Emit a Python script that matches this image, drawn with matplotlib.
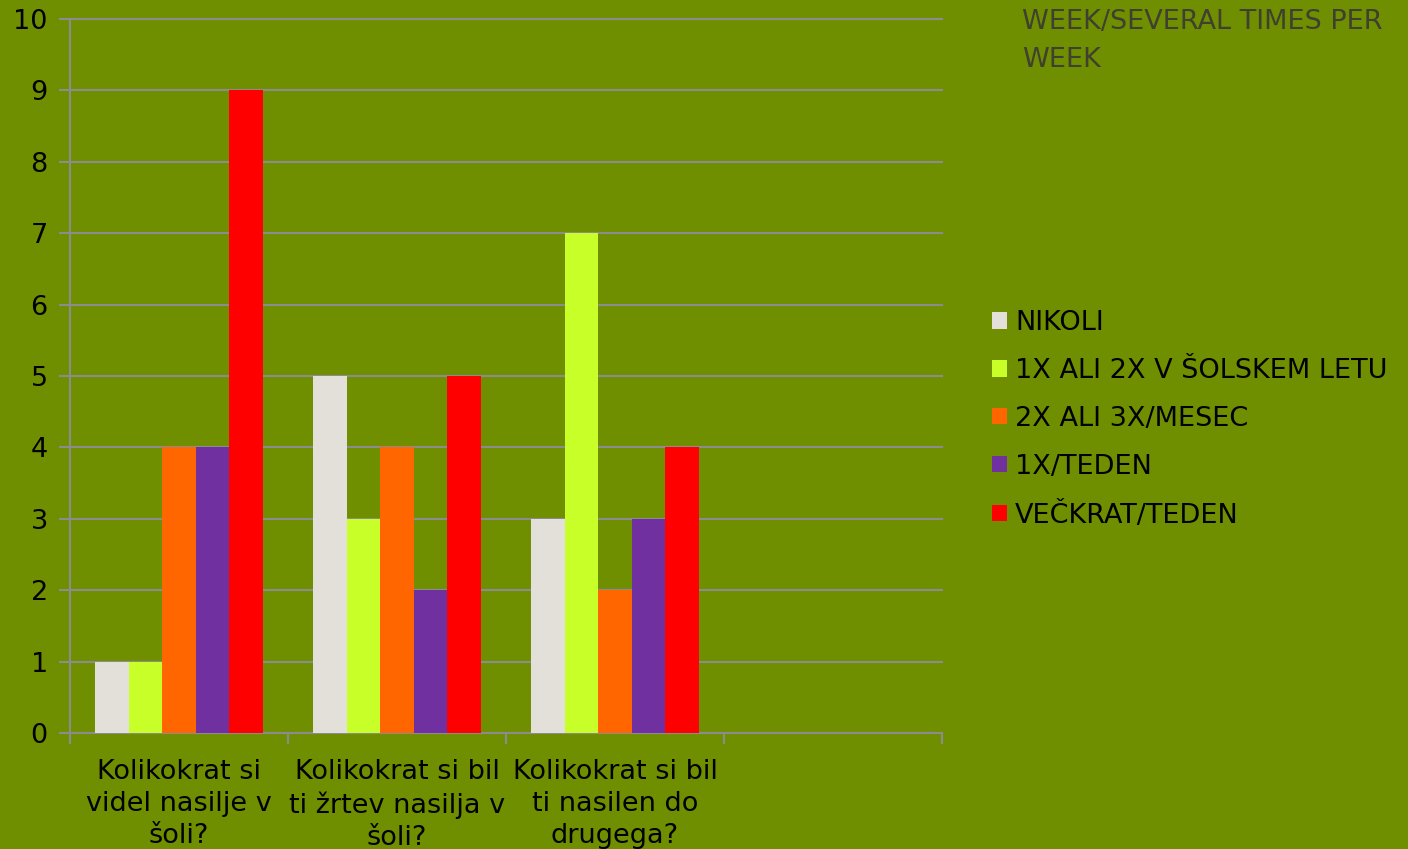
import matplotlib.pyplot as plt
import numpy as np

categories = ['Kolikokrat si\nvidel nasilje v\nšoli?',
              'Kolikokrat si bil\nti žrtev nasilja v\nšoli?',
              'Kolikokrat si bil\nti nasilen do\ndrugega?',
              '']
series = ['NIKOLI', '1X ALI 2X V ŠOLSKEM LETU', '2X ALI 3X/MESEC',
          '1X/TEDEN', 'VEČKRAT/TEDEN']
values = [
    [1, 5, 3],
    [1, 3, 7],
    [4, 4, 2],
    [4, 2, 3],
    [9, 5, 4],
]
colors = ['#E3E0DA', '#C8FF28', '#FF6600', '#7030A0', '#FF0000']

bg = '#6F8F00'
grid_c = '#8C8C8C'
fs = 19.5

plt.rcParams['font.family'] = ['DejaVu Sans']
fig = plt.figure(figsize=(14.08, 8.49), dpi=100, facecolor=bg)
ax = fig.add_axes([70/1408, 1-733/849, (942-70)/1408, (733-19)/849])
ax.set_facecolor(bg)

w = 0.154
x = np.arange(3)
for i, (name, vals, c) in enumerate(zip(series, values, colors)):
    ax.bar(x + (i - 2) * w, vals, width=w, color=c, label=name, zorder=3)

ax.set_xlim(-0.5, 3.5)
ax.set_ylim(0, 10)
ax.set_yticks(range(0, 11))
ax.yaxis.grid(True, color=grid_c, linewidth=1.5, zorder=0)
for gl in ax.get_ygridlines():
    gl.set_clip_on(False)
ax.set_xticks([-0.5, 0.5, 1.5, 2.5, 3.5])
ax.set_xticklabels([])
ax.set_xticks([0, 1, 2, 3], minor=True)
ax.set_xticklabels(categories, minor=True, fontsize=fs, linespacing=1.28)
ax.tick_params(axis='x', which='minor', length=0, pad=19)
ax.tick_params(axis='x', which='major', length=8, color=grid_c, width=1.5)
ax.tick_params(axis='y', length=8, color=grid_c, width=1.5, labelsize=fs, pad=8)
for s in ['top', 'right']:
    ax.spines[s].set_visible(False)
for s in ['left', 'bottom']:
    ax.spines[s].set_color(grid_c)
    ax.spines[s].set_linewidth(1.5)

fig.legend(loc='upper left', bbox_to_anchor=(992/1408, 1-310/849), frameon=False,
           fontsize=fs, handlelength=0.55, handleheight=0.55, handletextpad=0.3,
           labelspacing=0.81, borderaxespad=0, borderpad=0)
fig.text(1022/1408, 1-9/849, 'WEEK/SEVERAL TIMES PER\nWEEK', color='#404030',
         fontsize=fs, va='top', ha='left', linespacing=1.58)

fig.savefig('out.png', dpi=100, facecolor=bg)
